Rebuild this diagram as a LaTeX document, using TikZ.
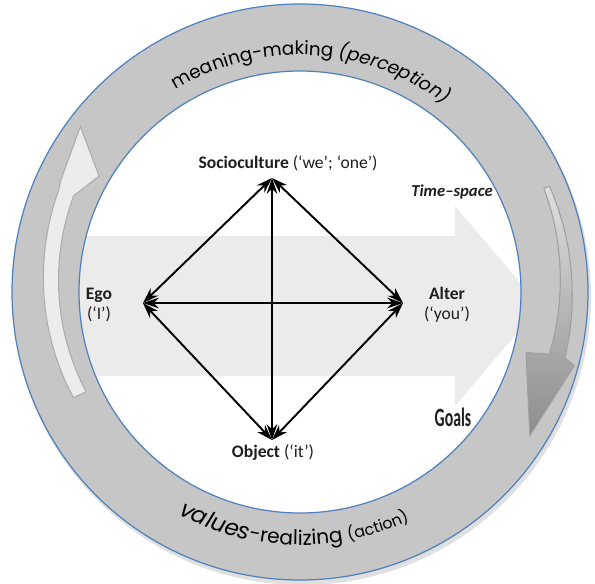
\documentclass[tikz,border=0pt]{standalone}
\usepackage{fontspec}
\setmainfont{Carlito}
\newfontfamily\ringfont{Poppins}
\usetikzlibrary{arrows.meta,decorations.text}
\definecolor{ringblue}{RGB}{79,129,189}
\definecolor{lbltext}{RGB}{30,30,30}

\begin{document}
\begin{tikzpicture}[x=0.02cm,y=0.02cm,
  link/.style={{Stealth[length=9pt,width=6pt]}-{Stealth[length=9pt,width=6pt]}, line width=1.1pt},
  lbl/.style={font=\fontsize{10}{11.5}\selectfont, text=lbltext, align=center, inner sep=1pt}]
\useasboundingbox (-300,-291) rectangle (295,292);
% ring with soft shadow
\fill[black!12] (2,-4) circle (289);
\fill[gray!45, even odd rule] (0,0) circle (288) (0,0) circle (221);
\fill[white] (0,0) circle (221);
% time-space arrow
\begin{scope}
\clip (0,0) circle (221);
\fill[gray!16] (-230,56) -- (155,56) -- (155,86) -- (240,-14) -- (155,-114) -- (155,-84) -- (-230,-84) -- cycle;
\end{scope}
\draw[ringblue, line width=0.7pt] (0,0) circle (288);
\draw[ringblue, line width=0.7pt] (0,0) circle (221);
% curved arrows in the ring
\filldraw[fill=gray!15, draw=gray!65, line width=0.6pt]
  plot[domain=0:1, samples=25] ({205-48*\x}:{236+10*\x}) -- (150:232) -- (143:275) -- (155:264)
  -- plot[domain=0:1, samples=25] ({157+48*\x}:{262-12*\x}) -- cycle;
\shade[top color=gray!25, bottom color=gray!90, draw=gray!75, line width=0.6pt]
  plot[domain=0:1, samples=25] ({23-37*\x}:{265-8*\x}) -- (-15:234) -- (-32:271) -- (-15:284)
  -- plot[domain=0:1, samples=25] ({-14+37*\x}:{273-2*\x}) -- cycle;
% ring texts
\path[decorate, decoration={text along path, text align=center,
  text={|\ringfont\fontsize{10.5}{12}\selectfont|meaning-making |\ringfont\itshape\fontsize{10.5}{12}\selectfont|(perception)}}]
  (160:237) arc (160:14:237);
\path[decorate, decoration={text along path, text align=center,
  text={|\ringfont\itshape\fontsize{13}{15}\selectfont|values|\ringfont\fontsize{11.5}{13}\selectfont|-realizing |\ringfont\fontsize{9}{10}\selectfont|(action)}}]
  (200:253) arc (200:337:253);
% diamond
\coordinate (soc) at (-28,114);
\coordinate (ego) at (-157,-11);
\coordinate (alt) at (103,-11);
\coordinate (obj) at (-28,-148);
\foreach \a/\b in {soc/ego,soc/alt,soc/obj,ego/alt,ego/obj,alt/obj}{
\draw[link] (\a) -- (\b);
}
\node[lbl] (soclbl) at (-12,129) {\textbf{Socioculture} (‘we’; ‘one’)};
\node[lbl] (egolbl) at (-201,-13) {\textbf{Ego}\\(‘I’)};
\node[lbl] (altlbl) at (147,-13) {\textbf{Alter}\\(‘you’)};
\node[lbl] (objlbl) at (-27,-161) {\textbf{Object} (‘it’)};
\node[lbl, font=\fontsize{9.5}{11}\selectfont] (timelbl) at (152,100) {\textbf{\textit{Time–space}}};
\node[lbl] (goalslbl) at (153,-125) {\scalebox{0.6}[1]{\fontsize{15}{15}\selectfont\bfseries Goals}};
\end{tikzpicture}
\end{document}
